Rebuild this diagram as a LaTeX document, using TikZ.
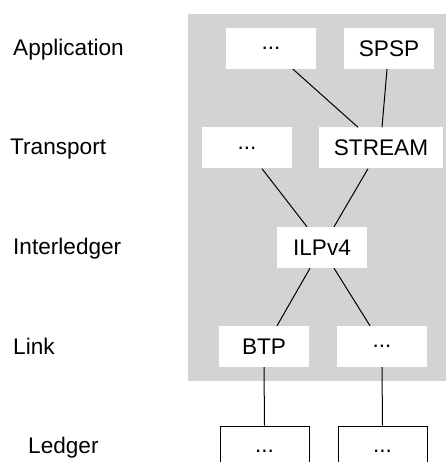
\documentclass[tikz,border=0pt]{standalone}
\usepackage{fontspec}
\setmainfont{Liberation Sans}
\definecolor{layerbg}{RGB}{211,211,211}
\begin{document}
\begin{tikzpicture}[
    proto/.style={fill=white, minimum width=90pt, minimum height=41pt, inner sep=0pt},
    ledgerbox/.style={draw, fill=white, line width=1pt, minimum width=89pt, minimum height=50pt, inner sep=0pt},
    layer/.style={anchor=base west, inner sep=0pt},
    wire/.style={line width=1pt}]

  \fontsize{22.6pt}{27pt}\selectfont
  \clip (0pt,0pt) rectangle (446pt,-462pt);
  \fill[layerbg] (188pt,-14pt) rectangle (446pt,-381pt);

  \node[layer] (lapp) at (13pt,-56pt) {Application};
  \node[layer] (ltr) at (10pt,-155pt) {Transport};
  \node[layer] (lilp) at (13pt,-254pt) {Interledger};
  \node[layer] (llink) at (13pt,-354pt) {Link};
  \node[layer] (lledger) at (28pt,-453pt) {Ledger};

  \node[proto] (appdots) at (271pt,-48.5pt) {...};
  \node[proto] (spsp) at (389pt,-48.5pt) {SPSP};
  \node[proto] (trdots) at (247pt,-148pt) {...};
  \node[proto, minimum width=124pt] (stream) at (381pt,-148pt) {STREAM};
  \node[proto] (ilp) at (322pt,-247.5pt) {ILPv4};
  \node[proto] (btp) at (264pt,-346.5pt) {BTP};
  \node[proto] (linkdots) at (382pt,-346.5pt) {...};
  \node[ledgerbox] (ledgera) at (264.5pt,-451pt) {...};
  \node[ledgerbox] (ledgerb) at (382.5pt,-451pt) {...};

  \draw[wire] ([xshift=22pt]appdots.south) -- ([xshift=-23pt]stream.north);
  \draw[wire] ([xshift=-2pt]spsp.south) -- ([xshift=1pt]stream.north);
  \draw[wire] ([xshift=15pt]trdots.south) -- ([xshift=-15pt]ilp.north);
  \draw[wire] ([xshift=-13pt]stream.south) -- ([xshift=12pt]ilp.north);
  \draw[wire] ([xshift=-12pt]ilp.south) -- ([xshift=13pt]btp.north);
  \draw[wire] ([xshift=12pt]ilp.south) -- ([xshift=-12pt]linkdots.north);
  \draw[wire] (btp.south) -- (ledgera.north);
  \draw[wire] (linkdots.south) -- (ledgerb.north);

\end{tikzpicture}
\end{document}
